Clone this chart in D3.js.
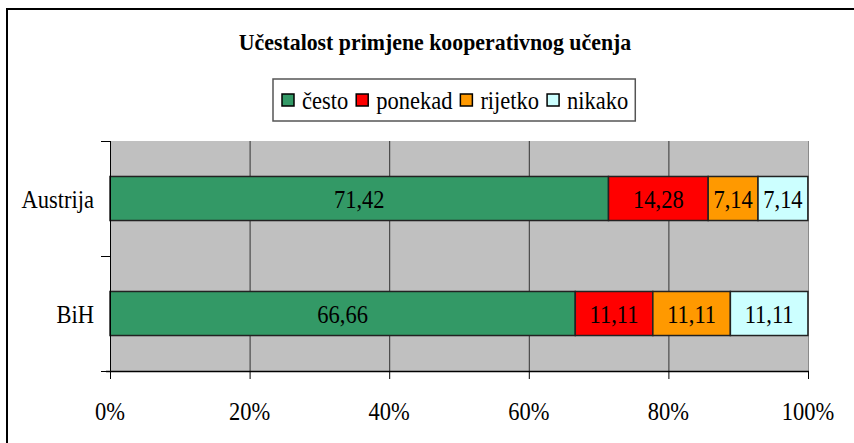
<!DOCTYPE html>
<html>
<head>
<meta charset="utf-8">
<script src="https://cdn.jsdelivr.net/npm/d3@7"></script>
<style>
  body { margin: 0; background: #fff; }
  svg text { font-family: "Liberation Serif", "Times New Roman", Times, serif; }
</style>
</head>
<body>
<div id="chart"></div>
<script>
// data
var categories = ["Austrija", "BiH"];
var seriesNames = ["često", "ponekad", "rijetko", "nikako"];
var seriesColors = ["#339966", "#ff0000", "#ff9900", "#ccffff"];
var cesto = [71.42, 66.66];
var ponekad = [14.28, 11.11];
var rijetko = [7.14, 11.11];
var nikako = [7.14, 11.11];
var xTicks = [0, 20, 40, 60, 80, 100];

(function() {
var W = 854, H = 443;
var mLeft = 110, mTop = 141, pw = 698, ph = 230;
var FS = 25, SX = 0.9;

// narrow, tall text like the original export
function tpos(px, py) { return "translate(" + px + "," + py + ") scale(" + SX + ",1)"; }

var svg = d3.select("#chart").append("svg")
  .attr("width", W).attr("height", H)
  .attr("font-family", "'Liberation Serif', 'Times New Roman', serif");

// outer frame
svg.append("rect")
  .attr("x", 7).attr("y", 9).attr("width", 900).attr("height", 500)
  .attr("fill", "none").attr("stroke", "#000").attr("stroke-width", 2);

svg.append("text")
  .attr("transform", "translate(435,50) scale(0.95,1)")
  .attr("text-anchor", "middle")
  .attr("font-size", 23).attr("font-weight", "bold")
  .text("Učestalost primjene kooperativnog učenja");

var x = d3.scaleLinear().domain([0, 100]).range([mLeft, mLeft + pw]);
var y = d3.scaleBand().domain(categories).range([mTop, mTop + ph])
  .paddingInner(0.617).paddingOuter(0.3085);
var yStep = d3.scaleBand().domain(categories).range([mTop, mTop + ph]);

// plot background
svg.append("rect")
  .attr("x", x(0)).attr("y", mTop).attr("width", pw).attr("height", ph)
  .attr("fill", "#c0c0c0");

// gridlines
svg.selectAll("line.grid").data(xTicks.slice(1)).enter().append("line")
  .attr("class", "grid")
  .attr("x1", function(d) { return x(d) + 0.5; })
  .attr("x2", function(d) { return x(d) + 0.5; })
  .attr("y1", mTop).attr("y2", mTop + ph)
  .attr("stroke", function(d) { return d === 100 ? "#8a8a8a" : "#333"; })
  .attr("stroke-width", 1);

// stacked bars
var table = categories.map(function(c, i) {
  return { cat: c, "često": cesto[i], "ponekad": ponekad[i], "rijetko": rijetko[i], "nikako": nikako[i] };
});
var stack = d3.stack().keys(seriesNames)(table);

stack.forEach(function(layer, si) {
  var g = svg.append("g");
  g.selectAll("rect").data(layer).enter().append("rect")
    .attr("x", function(d) { return x(d[0]); })
    .attr("y", function(d) { return y(d.data.cat); })
    .attr("width", function(d) { return x(d[1]) - x(d[0]); })
    .attr("height", y.bandwidth())
    .attr("fill", seriesColors[si])
    .attr("stroke", "#222").attr("stroke-width", 1.5);
  g.selectAll("text").data(layer).enter().append("text")
    .attr("transform", function(d) {
      return tpos((x(d[0]) + x(d[1])) / 2, y(d.data.cat) + y.bandwidth() / 2 + 9);
    })
    .attr("text-anchor", "middle")
    .attr("font-size", FS)
    .text(function(d) { return (d[1] - d[0]).toFixed(2).replace(".", ","); });
});

// x axis
var xAxis = svg.append("g").attr("transform", "translate(0," + (mTop + ph) + ")");
xAxis.append("line").attr("x1", mLeft - 4).attr("x2", mLeft + pw + 1)
  .attr("y1", 0.5).attr("y2", 0.5).attr("stroke", "#000").attr("stroke-width", 1.5);
xAxis.selectAll("line.tick").data(xTicks).enter().append("line")
  .attr("x1", function(d) { return x(d) + 0.5; })
  .attr("x2", function(d) { return x(d) + 0.5; })
  .attr("y1", 0).attr("y2", 8).attr("stroke", "#000");
xAxis.selectAll("text").data(xTicks).enter().append("text")
  .attr("transform", function(d) { return tpos(x(d), 49); })
  .attr("text-anchor", "middle")
  .attr("font-size", FS)
  .text(function(d) { return d + "%"; });

// y axis
var yAxis = svg.append("g");
yAxis.append("line").attr("x1", mLeft + 0.5).attr("x2", mLeft + 0.5)
  .attr("y1", mTop).attr("y2", mTop + ph + 8).attr("stroke", "#000");
var yTickPos = [mTop].concat(categories.map(function(c) { return yStep(c) + yStep.bandwidth(); }));
yAxis.selectAll("line.tick").data(yTickPos).enter().append("line")
  .attr("x1", mLeft - 9).attr("x2", mLeft)
  .attr("y1", function(d) { return d + 0.5; })
  .attr("y2", function(d) { return d + 0.5; })
  .attr("stroke", "#000");
yAxis.selectAll("text").data(categories).enter().append("text")
  .attr("transform", function(d) { return tpos(mLeft - 16, y(d) + y.bandwidth() / 2 + 9); })
  .attr("text-anchor", "end")
  .attr("font-size", FS)
  .text(function(d) { return d; });

// legend
var legend = svg.append("g");
var legendBox = legend.append("rect")
  .attr("y", 79).attr("height", 42)
  .attr("fill", "#fff").attr("stroke", "#555").attr("stroke-width", 1.5);
var lx = 282;
seriesNames.forEach(function(name, i) {
  legend.append("rect")
    .attr("x", lx).attr("y", 94).attr("width", 12).attr("height", 12)
    .attr("fill", seriesColors[i]).attr("stroke", "#000").attr("stroke-width", 1.5);
  var t = legend.append("text")
    .attr("transform", tpos(lx + 20, 109))
    .attr("font-size", FS)
    .text(name);
  lx += 20 + t.node().getComputedTextLength() * SX + 8;
});
legendBox.attr("x", 273).attr("width", lx - 8 + 7 - 273);
})();
</script>
</body>
</html>
